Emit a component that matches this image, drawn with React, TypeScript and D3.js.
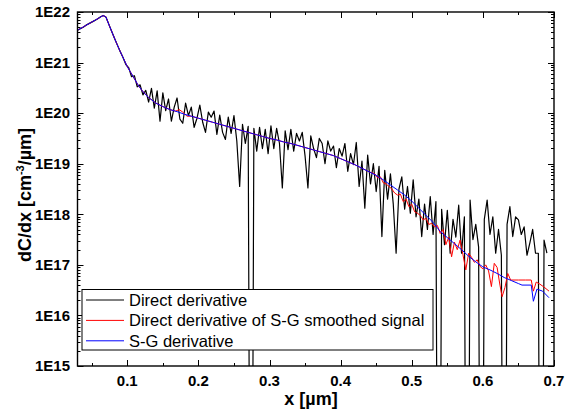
import { useEffect, useRef } from 'react';
import * as d3 from 'd3';

// direct derivative, sampled every 0.004 µm from 0.03 µm
const directX = d3.range(166).map(i => +(0.03 + i * 0.004).toFixed(3));
// log10(dC/dx); 5 marks a negative value that drops below the axis
const directLog = [
  21.64, 21.67, 21.70, 21.74, 21.77, 21.80, 21.83, 21.86, 21.90, 21.93,
  21.90, 21.76, 21.62, 21.48, 21.35, 21.22, 21.10, 20.96, 20.90, 20.72,
  20.74, 20.52, 20.56, 20.36, 20.45, 20.22, 20.49, 20.10, 20.44, 19.84,
  20.40, 20.05, 20.28, 19.84, 20.12, 20.30, 19.88, 19.80, 20.20, 19.95,
  20.12, 19.72, 19.90, 20.16, 19.82, 19.62, 20.02, 19.92, 20.04, 19.58,
  19.96, 19.62, 19.48, 19.92, 19.60, 19.95, 19.45, 18.55, 19.78, 19.40,
  19.74, 5, 19.70, 19.25, 19.72, 19.30, 19.68, 19.20, 19.75, 19.30,
  19.70, 19.40, 18.52, 19.65, 19.28, 19.68, 19.25, 19.60, 19.45, 19.62,
  19.15, 18.52, 19.55, 19.30, 19.12, 19.50, 19.40, 19.00, 19.45, 19.25,
  19.35, 18.92, 19.30, 19.15, 19.40, 18.85, 19.20, 18.98, 19.42, 18.55,
  19.05, 18.12, 19.17, 18.60, 19.00, 18.45, 18.95, 17.56, 18.87, 18.30,
  18.80, 18.20, 17.23, 18.50, 18.74, 18.10, 18.55, 18.02, 18.68, 17.95,
  18.30, 17.56, 18.20, 17.70, 18.35, 17.60, 18.25, 5, 18.10, 17.40,
  18.08, 17.23, 17.90, 17.55, 18.18, 17.23, 17.95, 5, 18.28, 17.50,
  17.80, 17.35, 5, 17.90, 18.28, 17.60, 17.95, 17.23, 17.70, 17.19,
  5, 17.80, 18.15, 17.56, 17.95, 17.89, 17.60, 17.75, 17.19, 17.43,
  17.70, 17.23, 17.23, 5, 17.49, 17.23,
];

// direct derivative of the S-G smoothed signal
const smoothX = [
  0.030, 0.040, 0.050, 0.060, 0.066, 0.070, 0.075, 0.080, 0.085, 0.090,
  0.095, 0.100, 0.105, 0.110, 0.115, 0.120, 0.125, 0.130, 0.140, 0.150,
  0.160, 0.168, 0.173, 0.178, 0.184, 0.190, 0.200, 0.210, 0.220, 0.230,
  0.240, 0.250, 0.260, 0.270, 0.280, 0.290, 0.300, 0.310, 0.320, 0.330,
  0.340, 0.350, 0.360, 0.370, 0.380, 0.390, 0.400, 0.410, 0.420, 0.430,
  0.440, 0.444, 0.448, 0.452, 0.456, 0.460, 0.464, 0.468, 0.472, 0.476,
  0.480, 0.484, 0.488, 0.492, 0.496, 0.500, 0.504, 0.508, 0.512, 0.516,
  0.520, 0.524, 0.528, 0.532, 0.536, 0.540, 0.544, 0.548, 0.552, 0.556,
  0.560, 0.564, 0.568, 0.572, 0.576, 0.580, 0.584, 0.588, 0.592, 0.596,
  0.600, 0.604, 0.608, 0.612, 0.616, 0.620, 0.624, 0.627, 0.631, 0.635,
  0.639, 0.650, 0.660, 0.668, 0.671, 0.675, 0.680, 0.686, 0.693,
];
const smoothLog = [
  21.64, 21.72, 21.80, 21.88, 21.93, 21.90, 21.72, 21.55, 21.38, 21.22,
  21.07, 20.92, 20.80, 20.68, 20.56, 20.46, 20.38, 20.31, 20.20, 20.13,
  20.07, 20.04, 20.07, 20.02, 19.94, 19.94, 19.90, 19.86, 19.82, 19.78,
  19.74, 19.70, 19.66, 19.62, 19.58, 19.54, 19.50, 19.47, 19.43, 19.40,
  19.36, 19.32, 19.28, 19.24, 19.20, 19.16, 19.10, 19.04, 18.98, 18.91,
  18.84, 18.82, 18.80, 18.72, 18.74, 18.62, 18.60, 18.55, 18.50, 18.42,
  18.38, 18.40, 18.25, 18.30, 18.15, 18.20, 18.05, 18.02, 17.98, 17.89,
  17.92, 17.80, 17.82, 17.75, 17.78, 17.62, 17.70, 17.40, 17.55, 17.16,
  17.45, 17.30, 17.49, 17.20, 16.90, 17.23, 17.15, 17.05, 17.10, 16.97,
  16.92, 17.00, 16.88, 16.57, 17.03, 16.95, 16.60, 16.37, 16.55, 16.83,
  16.70, 16.70, 16.70, 16.70, 16.48, 16.66, 16.62, 16.56, 16.48,
];

// S-G derivative
const sgX = [
  0.030, 0.040, 0.050, 0.060, 0.066, 0.070, 0.075, 0.080, 0.085, 0.090,
  0.095, 0.100, 0.105, 0.110, 0.115, 0.120, 0.125, 0.130, 0.140, 0.150,
  0.160, 0.170, 0.180, 0.190, 0.200, 0.210, 0.220, 0.230, 0.240, 0.250,
  0.260, 0.270, 0.280, 0.290, 0.300, 0.310, 0.320, 0.330, 0.340, 0.350,
  0.360, 0.370, 0.380, 0.390, 0.400, 0.410, 0.420, 0.430, 0.440, 0.450,
  0.460, 0.470, 0.480, 0.490, 0.500, 0.510, 0.520, 0.530, 0.540, 0.550,
  0.560, 0.570, 0.580, 0.590, 0.600, 0.610, 0.620, 0.630, 0.640, 0.650,
  0.655, 0.668, 0.671, 0.676, 0.684, 0.693,
];
const sgLog = [
  21.64, 21.72, 21.80, 21.88, 21.93, 21.90, 21.72, 21.55, 21.38, 21.22,
  21.07, 20.92, 20.80, 20.68, 20.56, 20.46, 20.38, 20.31, 20.20, 20.13,
  20.07, 20.03, 19.98, 19.94, 19.90, 19.86, 19.82, 19.78, 19.74, 19.70,
  19.66, 19.62, 19.58, 19.54, 19.50, 19.47, 19.43, 19.40, 19.36, 19.32,
  19.28, 19.24, 19.20, 19.16, 19.10, 19.04, 18.98, 18.91, 18.84, 18.77,
  18.68, 18.58, 18.48, 18.38, 18.26, 18.12, 17.98, 17.84, 17.66, 17.54,
  17.42, 17.30, 17.17, 17.06, 16.96, 16.90, 16.83, 16.75, 16.69, 16.63,
  16.60, 16.60, 16.28, 16.52, 16.48, 16.35,
];

const xTickValues = [0.1, 0.2, 0.3, 0.4, 0.5, 0.6, 0.7];
const yTickExponents = [15, 16, 17, 18, 19, 20, 21, 22];
const legendLabels = ['Direct derivative', 'Direct derivative of S-G smoothed signal', 'S-G derivative'];
const seriesColors = ['#000000', '#ff0000', '#0000ff'];

const FONT = 'Arial, "Liberation Sans", sans-serif';

const Chart = () => {
  const svgRef = useRef<SVGSVGElement>(null);

  useEffect(() => {
    const w = 574;
    const h = 416;
    const left = 77.5, right = 554, top = 12, bottom = 366;

    const svg = d3.select(svgRef.current);
    svg.selectAll('*').remove();
    svg.attr('width', w).attr('height', h);

    const x = d3.scaleLinear().domain([0.03, 0.7]).range([left, right]);
    const y = d3.scaleLog().domain([1e15, 1e22]).range([bottom, top]);

    svg.append('rect').attr('width', w).attr('height', h).attr('fill', '#fff');

    svg.append('clipPath').attr('id', 'plot-clip')
      .append('rect')
      .attr('x', left).attr('y', top)
      .attr('width', right - left).attr('height', bottom - top);

    //series
    const series = [
      directX.map((v, i) => [v, directLog[i]]),
      smoothX.map((v, i) => [v, smoothLog[i]]),
      sgX.map((v, i) => [v, sgLog[i]]),
    ];
    const widths = [1.2, 1, 1];
    const line = d3.line<number[]>()
      .x(d => x(d[0]))
      .y(d => y(Math.pow(10, d[1])));

    const plot = svg.append('g').attr('clip-path', 'url(#plot-clip)');
    series.forEach((s, i) => {
      plot.append('path')
        .datum(s)
        .attr('d', line)
        .attr('fill', 'none')
        .attr('stroke', seriesColors[i])
        .attr('stroke-width', widths[i])
        .attr('stroke-linejoin', 'round');
    });

    //ticks, all pointing inwards
    const axes = svg.append('g').attr('stroke', '#000').attr('stroke-width', 1);
    const yTicks = y.ticks();
    yTicks.forEach(t => {
      const major = Math.abs(Math.log10(t) - Math.round(Math.log10(t))) < 1e-6;
      const len = major ? 6 : 3;
      const yy = Math.round(y(t)) + 0.5;
      axes.append('line').attr('x1', left).attr('x2', left + len).attr('y1', yy).attr('y2', yy);
      axes.append('line').attr('x1', right).attr('x2', right - len).attr('y1', yy).attr('y2', yy);
    });
    const xMinor = x.ticks(14);
    xMinor.forEach(t => {
      const major = Math.round(t * 100) % 10 === 0;
      const len = major ? 6 : 3;
      const xx = Math.round(x(t)) + 0.5;
      axes.append('line').attr('x1', xx).attr('x2', xx).attr('y1', bottom).attr('y2', bottom - len);
      axes.append('line').attr('x1', xx).attr('x2', xx).attr('y1', top).attr('y2', top + len);
    });

    //frame
    svg.append('rect')
      .attr('x', left).attr('y', top)
      .attr('width', right - left).attr('height', bottom - top)
      .attr('fill', 'none').attr('stroke', '#000').attr('stroke-width', 1.4);

    //tick labels
    svg.append('g')
      .selectAll('text')
      .data(yTickExponents)
      .enter().append('text')
      .attr('x', 70)
      .attr('y', d => y(Math.pow(10, d)))
      .attr('dy', '0.35em')
      .attr('text-anchor', 'end')
      .style('font-family', FONT)
      .style('font-weight', 'bold')
      .style('font-size', '15px')
      .text(d => '1E' + d);

    svg.append('g')
      .selectAll('text')
      .data(xTickValues)
      .enter().append('text')
      .attr('x', d => x(d))
      .attr('y', 386)
      .attr('text-anchor', 'middle')
      .style('font-family', FONT)
      .style('font-weight', 'bold')
      .style('font-size', '15px')
      .text(d => d3.format('.1f')(d));

    //axis titles
    svg.append('text')
      .attr('x', 311)
      .attr('y', 405)
      .attr('text-anchor', 'middle')
      .style('font-family', FONT)
      .style('font-weight', 'bold')
      .style('font-size', '18px')
      .text('x [µm]');

    const yTitle = svg.append('text')
      .attr('transform', 'translate(31, 195) rotate(-90)')
      .attr('text-anchor', 'middle')
      .style('font-family', FONT)
      .style('font-weight', 'bold')
      .style('font-size', '18px');
    yTitle.append('tspan').text('dC/dx [cm');
    yTitle.append('tspan').attr('dy', -7).style('font-size', '11px').text('-3');
    yTitle.append('tspan').attr('dy', 7).text('/µm]');

    //legend
    const legend = svg.append('g');
    legend.append('rect')
      .attr('x', 82).attr('y', 289.5)
      .attr('width', 351).attr('height', 60.5)
      .attr('fill', '#fff').attr('stroke', '#000').attr('stroke-width', 1);
    legendLabels.forEach((label, i) => {
      const ly = 300 + i * 20.4;
      legend.append('line')
        .attr('x1', 86).attr('x2', 124)
        .attr('y1', ly).attr('y2', ly)
        .attr('stroke', seriesColors[i])
        .attr('stroke-width', 1);
      legend.append('text')
        .attr('x', 129)
        .attr('y', ly)
        .attr('dy', '0.36em')
        .style('font-family', FONT)
        .style('font-size', '16.5px')
        .text(label);
    });
  }, []);

  return (
    <svg ref={svgRef} style={{ position: 'absolute', left: 0, top: 0 }}></svg>
  );
};

export default function App() {
  return <Chart />;
}
